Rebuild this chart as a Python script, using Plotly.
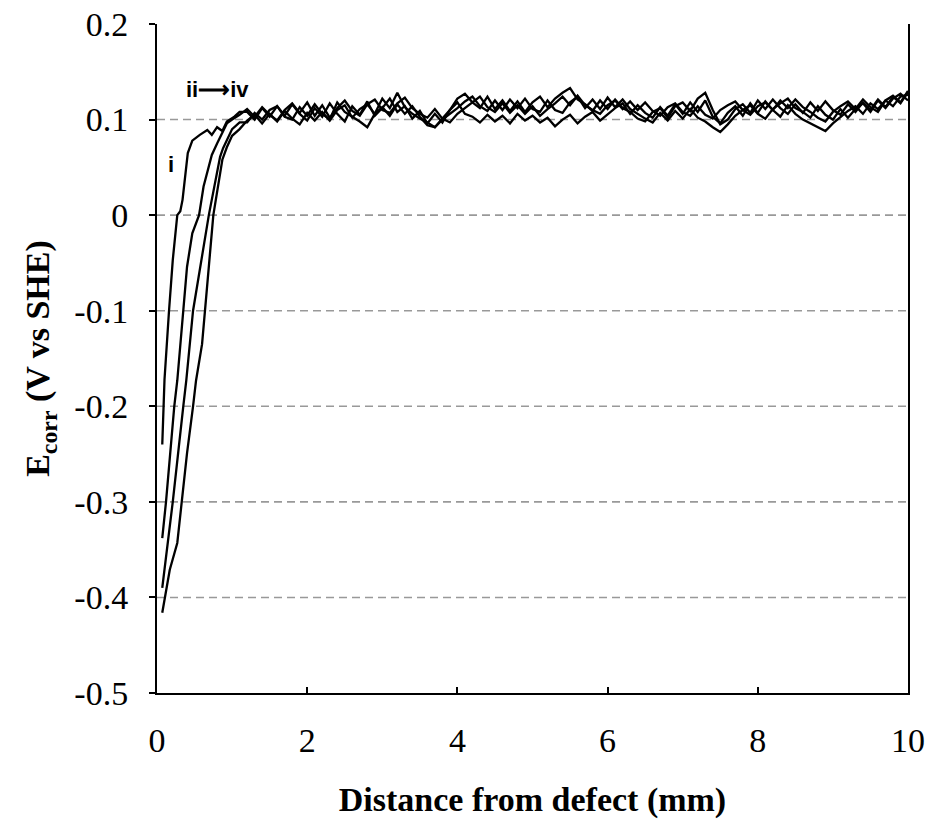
import plotly.graph_objects as go

# ---- data ----
x_plateau = [round(1.2 + 0.1 * i, 1) for i in range(89)]  # 1.2 ... 10.0

rise_i_x = [0.07, 0.10, 0.16, 0.21, 0.27, 0.31, 0.34, 0.41, 0.47, 0.57, 0.67, 0.73, 0.80, 0.87, 0.93, 1.03, 1.10]
rise_i_y = [-0.240, -0.172, -0.100, -0.047, 0.000, 0.004, 0.016, 0.065, 0.078, 0.084, 0.089, 0.084, 0.092, 0.088, 0.098, 0.103, 0.108]

rise_ii_x = [0.07, 0.12, 0.23, 0.27, 0.35, 0.40, 0.47, 0.56, 0.62, 0.73, 0.80, 0.93, 1.00, 1.10]
rise_ii_y = [-0.338, -0.300, -0.200, -0.173, -0.100, -0.054, -0.019, 0.000, 0.030, 0.063, 0.075, 0.096, 0.100, 0.105]

rise_iii_x = [0.07, 0.21, 0.35, 0.39, 0.48, 0.69, 0.84, 0.88, 1.00, 1.10]
rise_iii_y = [-0.390, -0.300, -0.200, -0.173, -0.100, 0.000, 0.061, 0.070, 0.090, 0.097]

rise_iv_x = [0.07, 0.17, 0.27, 0.31, 0.40, 0.48, 0.52, 0.60, 0.64, 0.75, 0.87, 0.93, 1.00, 1.10]
rise_iv_y = [-0.416, -0.371, -0.343, -0.312, -0.249, -0.200, -0.173, -0.135, -0.100, 0.000, 0.058, 0.071, 0.083, 0.090]

plateau_i = [
    0.108, 0.100, 0.112, 0.103, 0.114, 0.104, 0.116, 0.106, 0.099, 0.112,
    0.103, 0.117, 0.106, 0.098, 0.114, 0.105, 0.119, 0.104, 0.112, 0.122,
    0.108, 0.114, 0.101, 0.109, 0.096, 0.106, 0.097, 0.110, 0.118, 0.106,
    0.103, 0.097, 0.105, 0.098, 0.104, 0.096, 0.106, 0.099, 0.104, 0.097,
    0.102, 0.093, 0.100, 0.105, 0.096, 0.103, 0.108, 0.099, 0.106, 0.112,
    0.117, 0.106, 0.115, 0.107, 0.102, 0.113, 0.104, 0.116, 0.106, 0.118,
    0.108, 0.120, 0.103, 0.096, 0.107, 0.114, 0.104, 0.117, 0.107, 0.119,
    0.110, 0.103, 0.115, 0.106, 0.100, 0.096, 0.092, 0.088, 0.096, 0.103,
    0.109, 0.114, 0.106, 0.117, 0.111, 0.120, 0.114, 0.124, 0.126,
]
plateau_ii = [
    0.111, 0.103, 0.113, 0.105, 0.099, 0.110, 0.117, 0.107, 0.118, 0.104,
    0.115, 0.102, 0.112, 0.120, 0.109, 0.104, 0.116, 0.106, 0.122, 0.112,
    0.128, 0.113, 0.106, 0.101, 0.097, 0.092, 0.101, 0.110, 0.122, 0.127,
    0.118, 0.112, 0.124, 0.111, 0.120, 0.109, 0.119, 0.108, 0.118, 0.124,
    0.113, 0.122, 0.128, 0.133, 0.121, 0.116, 0.109, 0.120, 0.111, 0.121,
    0.112, 0.108, 0.101, 0.098, 0.108, 0.112, 0.102, 0.114, 0.118, 0.109,
    0.122, 0.128, 0.110, 0.095, 0.100, 0.111, 0.116, 0.107, 0.120, 0.111,
    0.121, 0.112, 0.106, 0.116, 0.107, 0.118, 0.109, 0.119, 0.110, 0.105,
    0.116, 0.108, 0.118, 0.110, 0.121, 0.113, 0.124, 0.117, 0.129,
]
plateau_iii = [
    0.097, 0.107, 0.100, 0.110, 0.114, 0.103, 0.100, 0.113, 0.104, 0.116,
    0.106, 0.100, 0.118, 0.108, 0.103, 0.098, 0.092, 0.106, 0.113, 0.104,
    0.116, 0.106, 0.114, 0.103, 0.094, 0.092, 0.100, 0.106, 0.112, 0.119,
    0.124, 0.114, 0.109, 0.120, 0.110, 0.121, 0.112, 0.122, 0.111, 0.108,
    0.120, 0.110, 0.107, 0.118, 0.124, 0.112, 0.121, 0.111, 0.123, 0.113,
    0.121, 0.111, 0.106, 0.101, 0.097, 0.107, 0.099, 0.109, 0.101, 0.111,
    0.102, 0.098, 0.092, 0.087, 0.095, 0.104, 0.110, 0.115, 0.106, 0.101,
    0.111, 0.117, 0.122, 0.112, 0.108, 0.102, 0.114, 0.105, 0.100, 0.111,
    0.102, 0.111, 0.117, 0.108, 0.120, 0.112, 0.122, 0.127, 0.120,
]
plateau_iv = [
    0.099, 0.105, 0.096, 0.106, 0.098, 0.109, 0.101, 0.095, 0.107, 0.099,
    0.108, 0.099, 0.110, 0.115, 0.102, 0.111, 0.116, 0.121, 0.110, 0.107,
    0.117, 0.123, 0.112, 0.106, 0.102, 0.111, 0.101, 0.097, 0.106, 0.112,
    0.118, 0.124, 0.113, 0.108, 0.117, 0.107, 0.115, 0.106, 0.114, 0.104,
    0.111, 0.117, 0.124, 0.115, 0.125, 0.115, 0.110, 0.106, 0.115, 0.120,
    0.111, 0.119, 0.110, 0.118, 0.109, 0.104, 0.113, 0.117, 0.108, 0.104,
    0.114, 0.105, 0.101, 0.110, 0.115, 0.119, 0.110, 0.105, 0.114, 0.118,
    0.110, 0.120, 0.112, 0.121, 0.113, 0.108, 0.102, 0.098, 0.108, 0.114,
    0.119, 0.111, 0.121, 0.113, 0.108, 0.120, 0.125, 0.118, 0.130,
]

y_tick_vals = [-0.5, -0.4, -0.3, -0.2, -0.1, 0.0, 0.1, 0.2]
y_tick_text = ["-0.5", "-0.4", "-0.3", "-0.2", "-0.1", "0", "0.1", "0.2"]
x_tick_vals = [0, 2, 4, 6, 8, 10]
grid_levels = [-0.4, -0.3, -0.2, -0.1, 0.0, 0.1]

series = [
    ("i", rise_i_x, rise_i_y, plateau_i),
    ("ii", rise_ii_x, rise_ii_y, plateau_ii),
    ("iii", rise_iii_x, rise_iii_y, plateau_iii),
    ("iv", rise_iv_x, rise_iv_y, plateau_iv),
]

fig = go.Figure()
for name, rx, ry, py in series:
    fig.add_trace(go.Scatter(
        x=list(rx) + x_plateau, y=list(ry) + py, mode="lines", name=name,
        line=dict(color="black", width=2.3), showlegend=False,
    ))

for g in grid_levels:
    fig.add_shape(type="line", xref="paper", x0=0, x1=1, yref="y", y0=g, y1=g,
                  line=dict(color="#999999", width=1.6, dash="8px,5px"), layer="below")

serif = "Liberation Serif, Times New Roman, serif"
fig.update_layout(
    width=932, height=825,
    margin=dict(l=157, r=24, t=24, b=132, autoexpand=False),
    plot_bgcolor="white", paper_bgcolor="white",
    font=dict(family=serif, color="black"),
)
fig.update_xaxes(
    range=[0, 10], tickvals=x_tick_vals, ticks="inside", ticklen=6, tickwidth=1.5,
    tickcolor="black", showline=True, linecolor="black", linewidth=2, showgrid=False,
    zeroline=False, tickfont=dict(size=34, family=serif), ticklabelstandoff=16,
    ticklabeloverflow="allow",
    title=dict(text="<b>Distance from defect (mm)</b>", font=dict(size=34, family=serif), standoff=29),
)
fig.update_yaxes(
    range=[-0.5, 0.2], tickvals=y_tick_vals, ticktext=y_tick_text, ticks="outside",
    ticklen=6, tickwidth=1.5, tickcolor="black", showline=True, linecolor="black",
    linewidth=2, mirror=True, showgrid=False, zeroline=False,
    tickfont=dict(size=34, family=serif), ticklabelstandoff=14,
    ticklabeloverflow="allow",
    title=dict(text="<b>E<sub>corr</sub> (V vs SHE)</b>", font=dict(size=34, family=serif), standoff=14),
)

sans = "Liberation Sans, Arial, sans-serif"
fig.add_annotation(x=0.8, y=0.131, text="<b>ii⟶iv</b>", showarrow=False,
                   font=dict(size=22, family=sans, color="black"))
fig.add_annotation(x=0.19, y=0.053, text="<b>i</b>", showarrow=False,
                   font=dict(size=22, family=sans, color="black"))

fig.write_html("out.html", config={"displayModeBar": False},
               post_script="document.body.style.margin='0';")
